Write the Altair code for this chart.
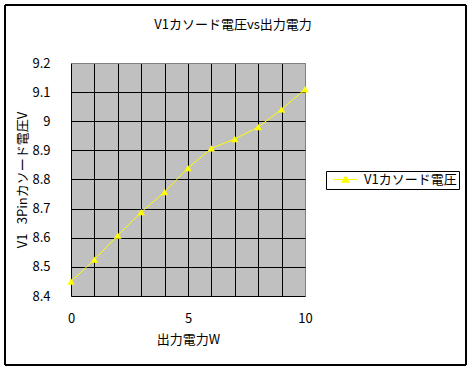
import altair as alt
import pandas as pd

power_w = [0, 1, 2, 3, 4, 5, 6, 7, 8, 9, 10]
cathode_v = [8.45, 8.525, 8.608, 8.688, 8.757, 8.839, 8.907, 8.939, 8.98, 9.041, 9.11]
series_name = "V1カソード電圧"
y_ticks = [8.4, 8.5, 8.6, 8.7, 8.8, 8.9, 9.0, 9.1, 9.2]
x_ticks = [0, 1, 2, 3, 4, 5, 6, 7, 8, 9, 10]

df = pd.DataFrame({"power": power_w, "volt": cathode_v, "series": [series_name] * len(power_w)})

FONT = "Noto Sans CJK JP"
YELLOW = "#FFFF00"

x_enc = alt.X(
    "power:Q",
    scale=alt.Scale(domain=[0, 10], nice=False, zero=False),
    axis=alt.Axis(
        values=x_ticks,
        labelExpr="datum.value % 5 === 0 ? datum.label : ''",
        title="出力電力W",
        grid=True,
        gridColor={"condition": {"test": "datum.value >= 10", "value": "#808080"}, "value": "#000000"},
        gridWidth=1,
        gridOpacity=1,
        domain=False,
        ticks=False,
        tickSize=0,
        labelPadding=16,
        titlePadding=8,
        labelFlush=False,
    ),
)
y_enc = alt.Y(
    "volt:Q",
    scale=alt.Scale(domain=[8.4, 9.2], nice=False, zero=False),
    axis=alt.Axis(
        values=y_ticks,
        format=".1~f",
        title="V1\u2002 3Pinカソード電圧V",
        grid=True,
        gridColor={"condition": {"test": "datum.value >= 9.19", "value": "#808080"}, "value": "#000000"},
        gridWidth=1,
        gridOpacity=1,
        domain=False,
        ticks=False,
        tickSize=0,
        labelPadding=21,
        titlePadding=2,
        labelFlush=False,
    ),
)

base = alt.Chart(df)

frame = base.mark_rect(fillOpacity=0, stroke="#000000", strokeWidth=1).encode(
    x=alt.value(-66), x2=alt.value(395), y=alt.value(-58), y2=alt.value(302)
)

line = base.mark_line(color=YELLOW, strokeWidth=1).encode(x=x_enc, y=y_enc)

points = base.mark_point(shape="triangle-up", filled=True, size=55, opacity=1).encode(
    x=x_enc,
    y=y_enc,
    color=alt.Color(
        "series:N",
        scale=alt.Scale(range=[YELLOW]),
        legend=alt.Legend(
            title=None,
            orient="none",
            legendX=255,
            legendY=108,
            strokeColor="#000000",
            fillColor="#FFFFFF",
            padding=2,
            symbolType="M-2.5,0L2.5,0M-0.7,0.55L0,-0.7L0.7,0.55Z",
            symbolSize=100,
            symbolStrokeColor=YELLOW,
            symbolStrokeWidth=1,
            symbolFillColor=YELLOW,
            symbolOffset=11,
            labelOffset=12,
            labelFont=FONT,
            labelFontSize=13,
            labelColor="#000000",
        ),
    ),
)

chart = (
    alt.layer(frame, line, points)
    .properties(
        width=234,
        height=233,
        autosize=alt.AutoSizeParams(type="none"),
        padding={"left": 71, "top": 63, "right": 167, "bottom": 71},
        title=alt.TitleParams(
            text="V1カソード電圧vs出力電力",
            font=FONT,
            fontSize=13,
            fontWeight="normal",
            color="#000000",
            anchor="middle",
            dx=45,
            offset=-27,
        ),
        background="#FFFFFF",
    )
    .configure_view(fill="#C0C0C0", stroke="#808080", strokeWidth=1)
    .configure_axis(
        labelFont=FONT,
        labelFontSize=13,
        labelColor="#000000",
        titleFont=FONT,
        titleFontSize=13,
        titleFontWeight="normal",
        titleColor="#000000",
    )
)

chart.save("out.html", embed_options={"renderer": "svg", "actions": False})
